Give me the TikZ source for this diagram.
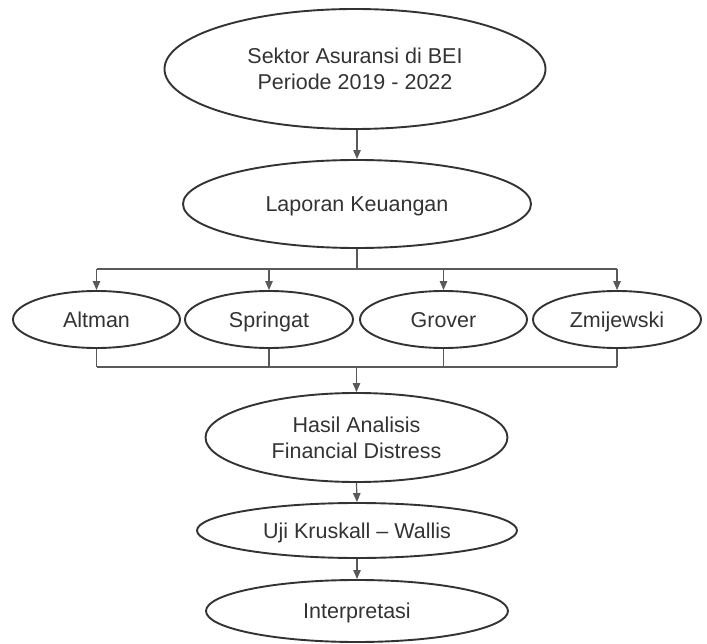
\documentclass[tikz,border=0pt]{standalone}
\usepackage{fontspec}
\setmainfont{Liberation Sans}
\usetikzlibrary{shapes.geometric,arrows.meta}
\definecolor{inkc}{gray}{0.2}
\definecolor{linec}{gray}{0.35}
\begin{document}
\begin{tikzpicture}[x=1pt,y=-1pt,
  oval/.style={ellipse,draw=inkc,line width=1.9pt,inner sep=0pt,text=inkc,
    align=center,font=\fontsize{21.5}{26}\selectfont},
  one/.style={text height=15.5pt,text depth=0pt},
  conn/.style={draw=linec,line width=1.2pt},
  arr/.style={conn,-{Triangle[length=9pt,width=7.5pt]}}]
\useasboundingbox (0,0) rectangle (707,644);
\node[oval,minimum width=381pt,minimum height=120pt] (top) at (355,69) {Sektor Asuransi di BEI\\Periode 2019 - 2022};
\node[oval,one,minimum width=348pt,minimum height=88pt] (lap) at (357,204) {Laporan Keuangan};
\node[oval,one,minimum width=167pt,minimum height=57pt] (alt) at (96.5,319.5) {Altman};
\node[oval,one,minimum width=168pt,minimum height=57pt] (spr) at (269,319.5) {Springat};
\node[oval,one,minimum width=167pt,minimum height=57pt] (gro) at (443.5,319.5) {Grover};
\node[oval,one,minimum width=168pt,minimum height=57pt] (zmi) at (617,319.5) {Zmijewski};
\node[oval,minimum width=302pt,minimum height=89pt] (has) at (356.5,437.5) {Hasil Analisis\\Financial Distress};
\node[oval,one,minimum width=320pt,minimum height=55pt] (uji) at (357,530.5) {Uji Kruskall -- Wallis};
\node[oval,one,minimum width=302pt,minimum height=62pt] (int) at (357,611) {Interpretasi};
\coordinate (busA) at (0,269);
\coordinate (busB) at (0,367);
% top to laporan
\draw[arr] (top.south -| lap.north) -- (lap.north);
% laporan to models
\draw[conn] (lap.south) -- (lap.south |- busA);
\draw[conn] (alt.north |- busA) -- (zmi.north |- busA);
\foreach \n in {alt,spr,gro,zmi}{
  \draw[arr] (\n.north |- busA) -- (\n.north);
  \draw[conn] (\n.south) -- (\n.south |- busB);
}
\draw[conn] (alt.south |- busB) -- (zmi.south |- busB);
\draw[arr] (has.north |- busB) -- (has.north);
\draw[arr] (has.south) -- (uji.north);
\draw[arr] (uji.south) -- (int.north);
\end{tikzpicture}
\end{document}
